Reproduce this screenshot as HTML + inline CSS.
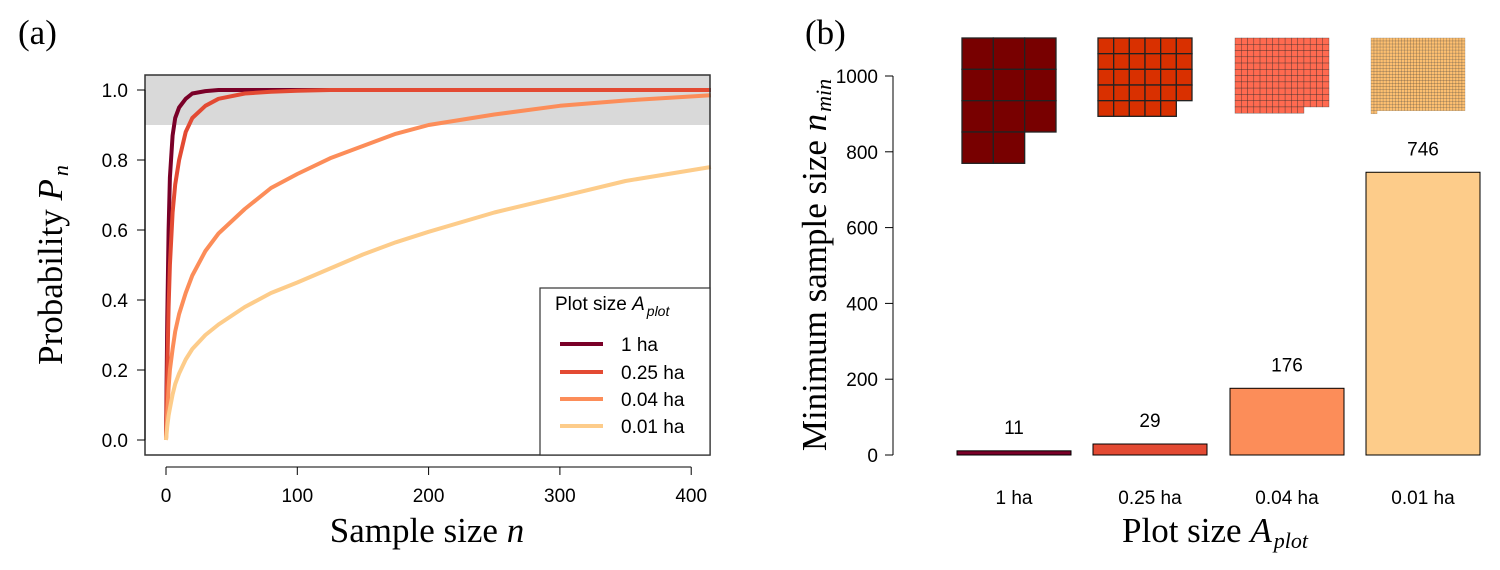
<!DOCTYPE html>
<html><head><meta charset="utf-8"><style>
body{margin:0;background:#fff;}
svg{display:block;}
.t{font-family:"Liberation Sans",sans-serif;font-size:19px;fill:#000;}
.s{font-family:"Liberation Serif",serif;font-size:35px;fill:#000;}
</style></head><body>
<svg id="c" width="1500" height="570" viewBox="0 0 1500 570" xmlns="http://www.w3.org/2000/svg"></svg>
<script>
const seriesNames=["1 ha","0.25 ha","0.04 ha","0.01 ha"];
const seriesColors=["#7a0028","#e34a33","#fc8d59","#fdcc8a"];
const nVals=[0,1,2,3,5,7,10,15,20,30,40,60,80,100,125,150,175,200,250,300,350,415];
const p1ha=[0,0.35,0.6,0.75,0.87,0.92,0.95,0.975,0.99,0.997,1,1,1,1,1,1,1,1,1,1,1,1];
const p025=[0,0.2,0.38,0.5,0.65,0.73,0.8,0.88,0.92,0.955,0.975,0.99,0.995,0.998,1,1,1,1,1,1,1,1];
const p004=[0,0.08,0.15,0.2,0.26,0.31,0.36,0.42,0.47,0.54,0.59,0.66,0.72,0.76,0.805,0.84,0.875,0.9,0.93,0.955,0.97,0.985];
const p001=[0,0.04,0.07,0.09,0.13,0.16,0.19,0.23,0.26,0.3,0.33,0.38,0.42,0.45,0.49,0.53,0.565,0.595,0.65,0.695,0.74,0.78];
const seriesP=[p1ha,p025,p004,p001];
const xTicks=[0,100,200,300,400];
const yTicks=[0,0.2,0.4,0.6,0.8,1.0];
const barCats=["1 ha","0.25 ha","0.04 ha","0.01 ha"];
const barVals=[11,29,176,746];
const barTicks=[0,200,400,600,800,1000];
const iconCols=[3,6,15,31];
const iconFill=["#780000","#d93000","#ff6a50","#fdbf70"];

const NS="http://www.w3.org/2000/svg";
const svg=document.getElementById('c');
function el(tag,attrs,parent){const e=document.createElementNS(NS,tag);for(const k in attrs)e.setAttribute(k,attrs[k]);(parent||svg).appendChild(e);return e;}
function txt(s,attrs,parent){const e=el('text',attrs,parent);e.textContent=s;return e;}

// Panel a
const ax=n=>166+n*1.313;
const ay=p=>440-p*350;
const ga=el('g',{});


let e=txt('(a)',{x:18,y:44,class:'s','font-size':27},ga);

e=el('rect',{x:145,y:75,width:565,height:ay(0.9)-75,fill:'#d9d9d9'},ga);

seriesP.forEach((arr,i)=>{
  const pts=arr.map((p,j)=>ax(nVals[j]).toFixed(1)+','+ay(p).toFixed(1)).join(' ');
  const l=el('polyline',{points:pts,fill:'none',stroke:seriesColors[i],'stroke-width':4,'stroke-linejoin':'round'},ga);
  
  
});
e=el('rect',{x:145,y:75,width:565,height:380,fill:'none',stroke:'#333','stroke-width':1.5},ga);

el('line',{x1:145,y1:ay(0),x2:145,y2:ay(1),stroke:'#000'},ga);
yTicks.forEach(v=>{
  el('line',{x1:137,y1:ay(v),x2:145,y2:ay(v),stroke:'#000'},ga);
  const t=txt(v.toFixed(1),{x:128,y:ay(v)+7,class:'t','text-anchor':'end'},ga);
  
});
el('line',{x1:ax(0),y1:467,x2:ax(400),y2:467,stroke:'#000'},ga);
xTicks.forEach(v=>{
  el('line',{x1:ax(v),y1:467,x2:ax(v),y2:475,stroke:'#000'},ga);
  const t=txt(String(v),{x:ax(v),y:502,class:'t','text-anchor':'middle'},ga);
  
});
e=txt('',{x:427,y:542,class:'s','text-anchor':'middle'},ga);
e.innerHTML='Sample size <tspan font-style="italic">n</tspan>';

e=txt('',{x:62,y:265,class:'s','text-anchor':'middle',transform:'rotate(-90 62 265)'},ga);
e.innerHTML='Probability <tspan font-style="italic">P</tspan><tspan font-style="italic" font-size="22" dx="3" dy="6">n</tspan>';

// legend
const lg=el('g',{},ga);

el('rect',{x:540,y:288,width:170,height:167,fill:'#fff',stroke:'#333','stroke-width':1.2},lg);
e=txt('',{x:555,y:310,class:'t'},lg);
e.innerHTML='Plot size <tspan font-style="italic">A</tspan><tspan font-style="italic" font-size="14" dx="2" dy="6">plot</tspan>';

const ly=[344,372,399,426];
seriesNames.forEach((n,i)=>{
  const g=el('g',{},lg);
  
  el('line',{x1:560,y1:ly[i],x2:603,y2:ly[i],stroke:seriesColors[i],'stroke-width':4},g);
  txt(n,{x:621,y:ly[i]+7,class:'t'},g);
});

// Panel b
const by=v=>455-v*0.379;
const bx=[957,1093,1230,1366];
const bw=114;
const gb=el('g',{});

e=txt('(b)',{x:805,y:44,class:'s','font-size':27},gb);

el('line',{x1:893,y1:by(0),x2:893,y2:by(1000),stroke:'#000'},gb);
barTicks.forEach(v=>{
  el('line',{x1:885,y1:by(v),x2:893,y2:by(v),stroke:'#000'},gb);
  const t=txt(String(v),{x:878,y:by(v)+7,class:'t','text-anchor':'end'},gb);
  
});
barVals.forEach((v,i)=>{
  const r=el('rect',{x:bx[i],y:by(v),width:bw,height:by(0)-by(v),fill:seriesColors[i],stroke:'#000','stroke-width':1},gb);
  
  
  const t=txt(String(v),{x:bx[i]+bw/2,y:by(v)-17,class:'t','text-anchor':'middle'},gb);
  
  const c=txt(barCats[i],{x:bx[i]+bw/2,y:504,class:'t','text-anchor':'middle'},gb);
  
  const ig=el('g',{},gb);
  
  const cols=iconCols[i], cs=94/cols, x0=bx[i]+5, y0=38;
  const sw=cols>20?0.4:(cols>10?0.5:1.3);
  const op=cols>20?0.4:(cols>10?0.6:1);
  for(let k=0;k<v;k++){
    const rr=Math.floor(k/cols), cc=k%cols;
    el('rect',{x:x0+cc*cs,y:y0+rr*cs,width:cs,height:cs,fill:iconFill[i],stroke:'#222','stroke-width':sw,'stroke-opacity':op},ig);
  }
});
e=txt('',{x:1215,y:542,class:'s','text-anchor':'middle'},gb);
e.innerHTML='Plot size <tspan font-style="italic">A</tspan><tspan font-style="italic" font-size="22" dx="2" dy="6">plot</tspan>';

e=txt('',{x:826,y:265,class:'s','text-anchor':'middle',transform:'rotate(-90 826 265)'},gb);
e.innerHTML='Minimum sample size <tspan font-style="italic">n</tspan><tspan font-style="italic" font-size="22" dx="2" dy="5">min</tspan>';

</script>
</body></html>
